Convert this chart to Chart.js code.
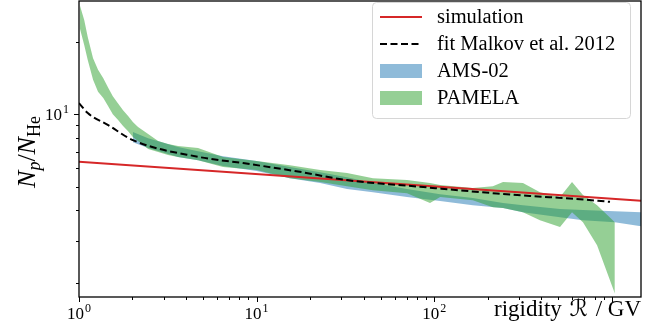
<!DOCTYPE html>
<html>
<head>
<meta charset="utf-8">
<script src="https://cdn.jsdelivr.net/npm/chart.js@4.4.0/dist/chart.umd.min.js"></script>
<style>
  html, body { margin: 0; padding: 0; background: #fff; }
  canvas { display: block; }
</style>
</head>
<body>
<canvas id="ratioChart" width="665" height="328"></canvas>
<script>
// --- DONNÉES ---

// simulation : loi de puissance, deux extrémités
const simRigidity = [1, 1460];
const simRatio = [6.36, 4.38];

// fit Malkov et al. 2012
const fitRigidity = [1.0, 1.12, 1.46, 2.01, 4.68, 8.38, 17.5, 32.2, 83.2, 225, 346, 605, 977];
const fitRatio = [11.14, 10.12, 9.03, 7.82, 6.67, 6.28, 5.78, 5.34, 5.01, 4.70, 4.59, 4.47, 4.34];

// AMS-02 (bande)
const amsRigidity = [2.01, 2.45, 3.61, 4.68, 6.47, 10.0, 15.4, 22.8, 32.3, 45.2, 70.3, 108, 165, 244, 316, 511, 688, 1040, 1460];
const amsUpper = [8.45, 7.97, 7.32, 7.04, 6.71, 6.40, 6.05, 5.76, 5.49, 5.19, 4.90, 4.67, 4.50, 4.29, 4.20, 4.05, 4.01, 3.97, 3.93];
const amsLower = [7.67, 7.25, 6.65, 6.46, 6.11, 5.82, 5.44, 5.19, 4.90, 4.76, 4.54, 4.37, 4.20, 4.09, 3.93, 3.75, 3.64, 3.57, 3.44];

// PAMELA (bande)
const pamRigidity = [1.01, 1.07, 1.12, 1.20, 1.28, 1.37, 1.46, 1.55, 1.66, 1.77, 1.89, 2.01, 2.15, 2.45, 2.79, 3.17, 3.61,
    4.68, 6.47, 10.0, 15.4, 22.8, 32.3, 45.2, 70.3, 94.7, 108, 165, 214, 244, 316, 394, 511, 597, 688, 826, 1040];
const pamUpper = [28.4, 24.6, 20.9, 17.1, 15.3, 14.1, 12.9, 11.9, 11.1, 10.4, 9.84, 9.29, 8.86, 8.29, 7.75, 7.53, 7.39,
    7.25, 6.65, 6.40, 6.16, 5.88, 5.71, 5.44, 5.34, 5.19, 5.09, 4.95, 5.04, 5.24, 5.19, 4.76, 4.54, 5.24, 4.63, 4.20, 3.57];
const pamLower = [22.8, 19.4, 16.8, 13.9, 12.4, 11.7, 10.8, 10.0, 9.47, 8.94, 8.52, 8.05, 7.75, 7.18, 6.98, 6.78, 6.65,
    6.46, 6.05, 5.88, 5.44, 5.24, 5.04, 4.85, 4.71, 4.29, 4.54, 4.41, 4.12, 4.09, 3.93, 3.64, 3.41, 3.93, 3.57, 2.87, 1.81];

// axes
const xMin = 1, xMax = 1460;
const yMin = 1.75, yMax = 29.5;
const xMajorLabels = [1, 10, 100];   // 10^3 caché sous le titre de l'axe
const yMajorLabels = [10];

// --- COULEURS ---
const RED = '#d62728';
const BLUE_FILL = 'rgba(31, 119, 180, 0.5)';
const GREEN_FILL = 'rgba(44, 160, 44, 0.5)';
const SERIF = '"Liberation Serif", "DejaVu Serif", serif';

function pts(xs, ys) {
    return xs.map((x, i) => ({ x: x, y: ys[i] }));
}

function bandDatasets(xs, upper, lower, color) {
    return [
        { data: pts(xs, upper), borderWidth: 0, borderColor: 'rgba(0,0,0,0)', backgroundColor: color, fill: '+1', pointRadius: 0 },
        { data: pts(xs, lower), borderWidth: 0, borderColor: 'rgba(0,0,0,0)', backgroundColor: color, fill: false, pointRadius: 0 }
    ];
}

// 10^n avec exposant en petit
function drawPow(ctx, exp, x, y, align) {
    ctx.font = '17px ' + SERIF;
    const wBase = ctx.measureText('10').width;
    ctx.font = '12px ' + SERIF;
    const wExp = ctx.measureText(String(exp)).width;
    const total = wBase + wExp + 1;
    let left = x - total / 2;
    if (align === 'right') left = x - total;
    ctx.textAlign = 'left';
    ctx.textBaseline = 'alphabetic';
    ctx.font = '17px ' + SERIF;
    ctx.fillText('10', left, y);
    ctx.font = '12px ' + SERIF;
    ctx.fillText(String(exp), left + wBase + 1, y - 7);
}

const axesPlugin = {
    id: 'axesPlugin',
    afterDatasetsDraw(chart) {
        const { ctx, chartArea: a, scales: { x, y } } = chart;
        ctx.save();
        ctx.fillStyle = '#000';
        ctx.strokeStyle = '#000';

        // ticks x
        ctx.lineWidth = 1;
        for (let d = 0; d <= 3; d++) {
            for (let m = 1; m <= 9; m++) {
                const v = m * Math.pow(10, d);
                if (v < xMin || v > xMax) continue;
                const px = Math.round(x.getPixelForValue(v)) + 0.5;
                const len = m === 1 ? 5 : 3;
                ctx.beginPath();
                ctx.moveTo(px, a.bottom);
                ctx.lineTo(px, a.bottom + len);
                ctx.stroke();
            }
        }
        // ticks y
        for (let d = 0; d <= 1; d++) {
            for (let m = 1; m <= 9; m++) {
                const v = m * Math.pow(10, d);
                if (v < yMin || v > yMax) continue;
                const py = Math.round(y.getPixelForValue(v)) + 0.5;
                const len = m === 1 ? 5 : 3;
                ctx.beginPath();
                ctx.moveTo(a.left, py);
                ctx.lineTo(a.left - len, py);
                ctx.stroke();
            }
        }

        // cadre
        ctx.lineWidth = 1.3;
        ctx.strokeRect(a.left, a.top, a.right - a.left, a.bottom - a.top);

        // labels de ticks
        xMajorLabels.forEach(v => {
            drawPow(ctx, Math.round(Math.log10(v)), x.getPixelForValue(v), a.bottom + 22, 'center');
        });
        yMajorLabels.forEach(v => {
            drawPow(ctx, Math.round(Math.log10(v)), a.left - 10, y.getPixelForValue(v) + 6, 'right');
        });

        // titre axe x : "rigidity ℛ / GV"
        ctx.textBaseline = 'alphabetic';
        ctx.textAlign = 'right';
        const base = 316;
        ctx.font = '23px ' + SERIF;
        const tail = ' / GV';
        const wTail = ctx.measureText(tail).width;
        ctx.fillText(tail, a.right, base);
        ctx.font = '23px "DejaVu Serif", "DejaVu Sans", serif';
        const wR = ctx.measureText('\u211B').width;
        ctx.fillText('\u211B', a.right - wTail - 2, base);
        ctx.font = '23px ' + SERIF;
        ctx.fillText('rigidity ', a.right - wTail - wR - 4, base);

        // titre axe y (N_p / N_He)
        ctx.translate(35, (a.top + a.bottom) / 2 + 3);
        ctx.rotate(-Math.PI / 2);
        const parts = [
            { t: 'N', f: 'italic 26px ' + SERIF, dy: 0 },
            { t: 'p', f: 'italic 18px ' + SERIF, dy: 5 },
            { t: '/', f: '26px ' + SERIF, dy: 0 },
            { t: 'N', f: 'italic 26px ' + SERIF, dy: 0 },
            { t: 'He', f: '18px ' + SERIF, dy: 5 }
        ];
        let w = 0;
        parts.forEach(p => { ctx.font = p.f; p.w = ctx.measureText(p.t).width; w += p.w; });
        let cx = -w / 2;
        ctx.textAlign = 'left';
        parts.forEach(p => {
            ctx.font = p.f;
            ctx.fillText(p.t, cx, p.dy);
            cx += p.w;
        });
        ctx.restore();
    },
    afterDraw(chart) {
        const ctx = chart.ctx;
        ctx.save();
        // boîte de légende
        const bx = 372.5, by = 2.5, bw = 258, bh = 116, r = 4;
        ctx.beginPath();
        ctx.moveTo(bx + r, by);
        ctx.arcTo(bx + bw, by, bx + bw, by + bh, r);
        ctx.arcTo(bx + bw, by + bh, bx, by + bh, r);
        ctx.arcTo(bx, by + bh, bx, by, r);
        ctx.arcTo(bx, by, bx + bw, by, r);
        ctx.closePath();
        ctx.fillStyle = 'rgba(255,255,255,0.8)';
        ctx.fill();
        ctx.strokeStyle = '#d6d6d6';
        ctx.lineWidth = 1;
        ctx.stroke();

        const hx0 = 380, hx1 = 422, tx = 437;
        const rows = [17, 44, 71, 98];
        // simulation
        ctx.strokeStyle = RED;
        ctx.lineWidth = 2;
        ctx.beginPath(); ctx.moveTo(hx0, rows[0]); ctx.lineTo(hx1, rows[0]); ctx.stroke();
        // fit
        ctx.strokeStyle = '#000';
        ctx.setLineDash([7, 3.5]);
        ctx.beginPath(); ctx.moveTo(hx0, rows[1]); ctx.lineTo(hx1, rows[1]); ctx.stroke();
        ctx.setLineDash([]);
        // patches
        ctx.fillStyle = BLUE_FILL;
        ctx.fillRect(hx0, rows[2] - 7, hx1 - hx0, 14);
        ctx.fillStyle = GREEN_FILL;
        ctx.fillRect(hx0, rows[3] - 7, hx1 - hx0, 14);

        ctx.fillStyle = '#000';
        ctx.font = '20.5px ' + SERIF;
        ctx.textAlign = 'left';
        ctx.textBaseline = 'middle';
        ['simulation', 'fit Malkov et al. 2012', 'AMS-02', 'PAMELA'].forEach((t, i) => {
            ctx.fillText(t, tx, rows[i] + 1);
        });
        ctx.restore();
    }
};

document.addEventListener('DOMContentLoaded', () => {
    const ctx = document.getElementById('ratioChart').getContext('2d');
    new Chart(ctx, {
        type: 'line',
        data: {
            datasets: [
                { data: pts(fitRigidity, fitRatio), borderColor: '#000', borderWidth: 2, borderDash: [7, 3.5], fill: false, pointRadius: 0, cubicInterpolationMode: 'monotone' },
                { data: pts(simRigidity, simRatio), borderColor: RED, borderWidth: 2, fill: false, pointRadius: 0 },
                ...bandDatasets(pamRigidity, pamUpper, pamLower, GREEN_FILL),
                ...bandDatasets(amsRigidity, amsUpper, amsLower, BLUE_FILL)
            ]
        },
        options: {
            responsive: false,
            animation: false,
            layout: { padding: { left: 79, right: 24, top: 1, bottom: 31 } },
            scales: {
                x: { type: 'logarithmic', min: xMin, max: xMax, display: false },
                y: { type: 'logarithmic', min: yMin, max: yMax, display: false }
            },
            plugins: {
                legend: { display: false },
                tooltip: { enabled: false }
            }
        },
        plugins: [axesPlugin]
    });
});
</script>
</body>
</html>
